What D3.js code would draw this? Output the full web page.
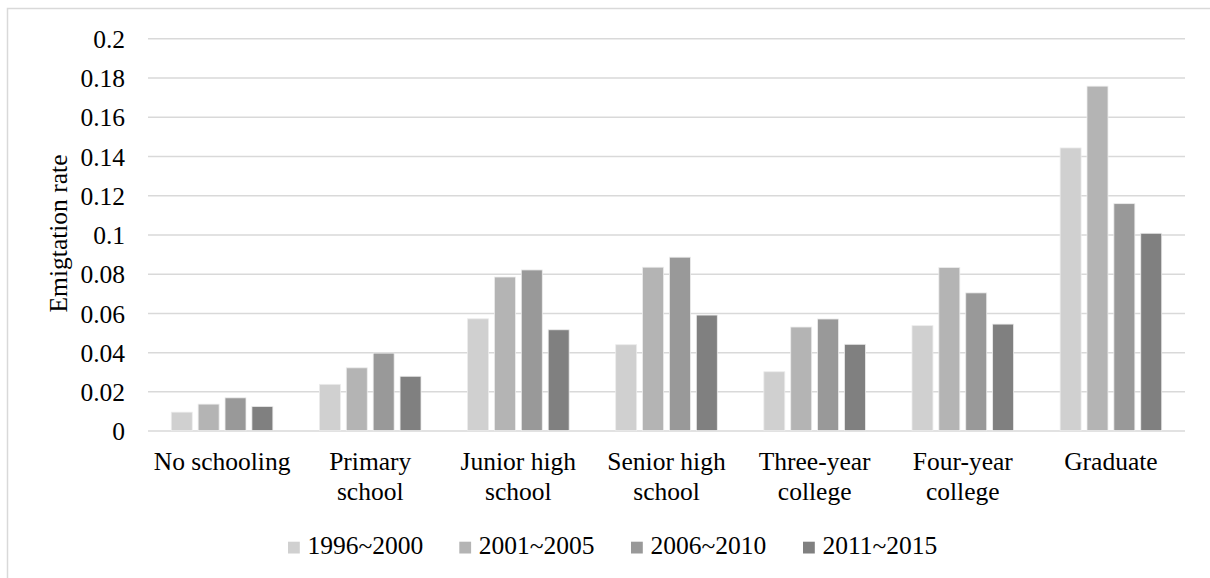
<!DOCTYPE html>
<html>
<head>
<meta charset="utf-8">
<script src="https://cdn.jsdelivr.net/npm/d3@7"></script>
<style>
  html, body { margin: 0; padding: 0; background: #fff; }
  svg { display: block; }
  svg text { font-family: "Liberation Serif", "Times New Roman", serif; fill: #000; }
</style>
</head>
<body>
<svg id="chart" width="1210" height="578"></svg>
<script>
// Education levels (each label split into display lines)
const categories = ["No schooling", "Primary school", "Junior high school", "Senior high school",
                    "Three-year college", "Four-year college", "Graduate"];
const categoryLines = [["No schooling"], ["Primary", "school"], ["Junior high", "school"],
                       ["Senior high", "school"], ["Three-year", "college"], ["Four-year", "college"], ["Graduate"]];
const periods = ["1996~2000", "2001~2005", "2006~2010", "2011~2015"];

// Emigration rate per period, one value per education level
const rate1996 = [0.0094, 0.0236, 0.0570, 0.0438, 0.0300, 0.0535, 0.1441];
const rate2001 = [0.0135, 0.0320, 0.0783, 0.0833, 0.0528, 0.0831, 0.1756];
const rate2006 = [0.0167, 0.0395, 0.0819, 0.0884, 0.0569, 0.0702, 0.1157];
const rate2011 = [0.0123, 0.0277, 0.0514, 0.0589, 0.0440, 0.0543, 0.1006];
const seriesValues = [rate1996, rate2001, rate2006, rate2011];

const yTicks = [0, 0.02, 0.04, 0.06, 0.08, 0.1, 0.12, 0.14, 0.16, 0.18, 0.2];
const colors = ["#d0d0d0", "#b4b4b4", "#999999", "#808080"];

const FONT = 25.5;
const svg = d3.select("#chart");

// outer frame (top and left edges visible)
svg.append("path")
  .attr("d", "M7.5,578 L7.5,8.5 L1210,8.5")
  .attr("fill", "none").attr("stroke", "#d9d9d9").attr("stroke-width", 1.5);

const plot = { left: 148, right: 1185, top: 38.3, bottom: 430.6 };

const x = d3.scaleBand().domain(categories).range([plot.left, plot.right]).padding(0);
const y = d3.scaleLinear().domain([0, 0.2]).range([plot.bottom, plot.top]);
const groupWidth = 101.6;
const xs = d3.scaleBand().domain(periods).range([-groupWidth / 2, groupWidth / 2]).paddingInner(0.22);

// horizontal gridlines and tick labels
const yAxis = d3.axisLeft(y).tickValues(yTicks).tickFormat(d => d3.format("~g")(d))
  .tickSize(-(plot.right - plot.left)).tickPadding(23);
const gy = svg.append("g").attr("transform", `translate(${plot.left},0)`).call(yAxis);
gy.attr("font-family", null).attr("font-size", null);
gy.select(".domain").remove();
gy.selectAll(".tick line").attr("stroke", "#d9d9d9").attr("stroke-width", 1.5);
gy.selectAll(".tick text").attr("font-size", FONT).attr("dy", "0.36em").attr("fill", "#000");

// bars
periods.forEach((p, si) => {
  svg.append("g").selectAll("rect")
    .data(seriesValues[si])
    .join("rect")
    .attr("x", (d, i) => x(categories[i]) + x.bandwidth() / 2 + xs(p))
    .attr("width", xs.bandwidth())
    .attr("y", d => y(d))
    .attr("height", d => y(0) - y(d))
    .attr("fill", colors[si])
    .attr("stroke", "#ececec")
    .attr("stroke-width", 0.8);
});

// category labels
const gx = svg.append("g");
categories.forEach((c, i) => {
  const cx = x(c) + x.bandwidth() / 2;
  const t = gx.append("text")
    .attr("x", cx)
    .attr("y", 470)
    .attr("text-anchor", "middle")
    .attr("font-size", FONT);
  categoryLines[i].forEach((line, li) => {
    t.append("tspan").attr("x", cx).attr("dy", li === 0 ? 0 : 29.5).text(line);
  });
});

// y axis title
svg.append("text")
  .attr("transform", "translate(66.5,233.5) rotate(-90)")
  .attr("text-anchor", "middle")
  .attr("font-size", FONT)
  .text("Emigtation rate");

// legend
const legendX = [288, 459.3, 631, 803];
const legend = svg.append("g");
periods.forEach((p, i) => {
  legend.append("rect")
    .attr("x", legendX[i]).attr("y", 541.7)
    .attr("width", 11.8).attr("height", 11.8)
    .attr("fill", colors[i]);
  legend.append("text")
    .attr("x", legendX[i] + 19.5).attr("y", 553.5)
    .attr("font-size", FONT)
    .text(p);
});
</script>
</body>
</html>
